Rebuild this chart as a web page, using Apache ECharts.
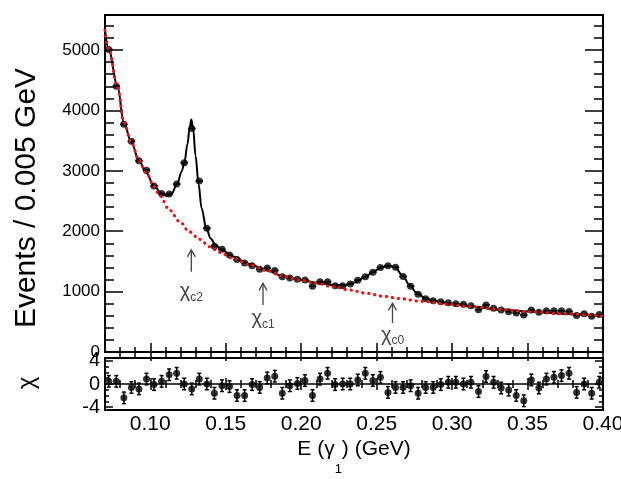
<!DOCTYPE html>
<html><head><meta charset="utf-8">
<script src="https://cdn.jsdelivr.net/npm/echarts@6/dist/echarts.min.js"></script>
<style>html,body{margin:0;padding:0;background:#fff}#c{width:621px;height:479px}</style>
</head><body><div id="c"></div>
<script>
// ---- data ----
const binCenters = [0.0725,0.0775,0.0825,0.0875,0.0925,0.0975,0.1025,0.1075,0.1125,0.1175,
  0.1225,0.1275,0.1325,0.1375,0.1425,0.1475,0.1525,0.1575,0.1625,0.1675,
  0.1725,0.1775,0.1825,0.1875,0.1925,0.1975,0.2025,0.2075,0.2125,0.2175,
  0.2225,0.2275,0.2325,0.2375,0.2425,0.2475,0.2525,0.2575,0.2625,0.2675,
  0.2725,0.2775,0.2825,0.2875,0.2925,0.2975,0.3025,0.3075,0.3125,0.3175,
  0.3225,0.3275,0.3325,0.3375,0.3425,0.3475,0.3525,0.3575,0.3625,0.3675,
  0.3725,0.3775,0.3825,0.3875,0.3925,0.3975];
const counts = [5010,4400,3770,3490,3165,3010,2750,2625,2615,2780,
  3135,3700,2830,2050,1750,1700,1605,1530,1475,1430,
  1370,1390,1350,1245,1225,1205,1192,1090,1164,1164,
  1095,1095,1125,1190,1247,1320,1400,1430,1405,1250,
  1090,955,880,850,833,816,800,790,765,700,
  778,725,695,667,645,613,695,660,682,682,
  682,670,605,635,590,620];
const residuals = [0.46,0.46,-2.4,-0.6,-0.85,0.85,-0.1,0.46,1.6,1.85,
  0,-0.85,0.85,0,-1.6,-0.3,-0.45,-2.0,-2.0,-0.1,
  -0.6,1.05,1.35,-1.6,-0.3,0.1,0.6,-2.0,0.85,1.85,
  -0.1,0,0,0.7,1.85,0.6,1.15,-1.45,-0.6,-0.6,
  -0.3,-1.6,-0.6,-0.6,-0.1,0.3,0.3,0,0.3,-1.3,
  1.3,0.3,-0.7,-1.05,-2.0,-2.9,0.7,-0.7,0.85,1.15,
  1.45,1.85,-1.45,0,-1.6,0.3];
const residualError = 1;
const halfBin = 0.0025;
const fitE = [0.0700,0.0725,0.0783,0.0825,0.0875,0.0925,0.0975,0.1025,0.1075,0.1108,
  0.1141,0.1179,0.1208,0.1227,0.1247,0.1260,0.1272,0.1284,0.1300,0.1320,
  0.1340,0.1371,0.1400,0.1433,0.1479,0.1546,0.1658,0.1770,0.1877,0.1990,
  0.2103,0.2209,0.2289,0.2355,0.2422,0.2475,0.2521,0.2574,0.2620,0.2673,
  0.2720,0.2766,0.2819,0.2872,0.2952,0.3118,0.3317,0.3516,0.3748,0.4000];
const fitVal = [5330,5000,4400,3800,3470,3170,2960,2750,2625,2585,
  2620,2790,2990,3150,3450,3700,3850,3700,3250,2780,
  2380,2050,1880,1770,1680,1580,1455,1355,1258,1198,
  1148,1110,1108,1150,1240,1320,1390,1428,1410,1262,
  1100,975,895,852,815,755,705,667,630,595];
const bgE = [0.0700,0.0725,0.0783,0.0825,0.0875,0.0925,0.0975,0.1025,0.1062,0.1128,
  0.1194,0.1260,0.1327,0.1393,0.1459,0.1546,0.1658,0.1770,0.1877,0.1990,
  0.2103,0.2209,0.2322,0.2434,0.2541,0.2654,0.2787,0.2985,0.3118,0.3317,
  0.3516,0.3748,0.4000];
const bgVal = [5330,5000,4400,3800,3470,3170,2960,2740,2590,2350,
  2160,1990,1866,1744,1650,1555,1445,1348,1255,1192,
  1137,1081,1026,972,925,885,840,790,752,705,
  667,630,595];
const xMajorTicks = [0.10,0.15,0.20,0.25,0.30,0.35,0.40];
const xMinorTicks = [0.08,0.09,0.11,0.12,0.13,0.14,0.16,0.17,0.18,0.19,0.21,0.22,0.23,0.24,
  0.26,0.27,0.28,0.29,0.31,0.32,0.33,0.34,0.36,0.37,0.38,0.39];
const yMajorTicks = [0,1000,2000,3000,4000,5000];
const yMinorTicks = [200,400,600,800,1200,1400,1600,1800,2200,2400,2600,2800,3200,3400,3600,3800,
  4200,4400,4600,4800,5200,5400];
const resMajorTicks = [-4,0,4];
const resMinorTicks = [-3,-2,-1,1,2,3];
const annotSub = ['c2','c1','c0'];
const annotE = [0.1272,0.1747,0.2605];

const FONT = '"Liberation Sans", Arial, Helvetica, sans-serif';
const chart = echarts.init(document.getElementById('c'));

function mkX(gridIndex, position, ticks, len, showLabel) {
  return {
    type: 'value', gridIndex, position, min: 0.07, max: 0.40,
    axisLine: {show: false}, splitLine: {show: false},
    axisTick: {show: true, inside: true, length: len, customValues: ticks,
      lineStyle: {color: '#000', width: 1.5}},
    axisLabel: showLabel ? {show: true, customValues: xMajorTicks,
      formatter: v => v.toFixed(2), fontSize: 21, color: '#000', margin: 4, fontFamily: FONT}
      : {show: false}
  };
}
function mkY(gridIndex, position, min, max, ticks, len, labels, fs) {
  return {
    type: 'value', gridIndex, position, min, max,
    axisLine: {show: false}, splitLine: {show: false},
    axisTick: {show: true, inside: true, length: len, customValues: ticks,
      lineStyle: {color: '#000', width: 1.5}},
    axisLabel: labels ? {show: true, customValues: labels, fontSize: fs,
      formatter: v => String(v),
      color: '#000', margin: 5, fontFamily: FONT} : {show: false}
  };
}

const xAxes = [
  mkX(0, 'bottom', xMajorTicks, 9, false),
  mkX(0, 'bottom', xMinorTicks, 5, false),
  mkX(0, 'top', xMajorTicks, 9, false),
  mkX(0, 'top', xMinorTicks, 5, false),
  mkX(1, 'bottom', xMajorTicks, 6, true),
  mkX(1, 'bottom', xMinorTicks, 4, false),
  mkX(1, 'top', xMajorTicks, 6, false),
  mkX(1, 'top', xMinorTicks, 4, false)
];
xAxes[4].name = '{t|E (γ}{s|1}{t|) (GeV)}';
xAxes[4].nameLocation = 'middle';
xAxes[4].nameGap = 29;
xAxes[4].nameTextStyle = {rich: {
  t: {fontSize: 21, fontFamily: FONT, color: '#000', verticalAlign: 'top'},
  s: {fontSize: 13, fontFamily: FONT, color: '#000', verticalAlign: 'top', padding: [24, 0, 0, 0]}
}};

const yAxes = [
  mkY(0, 'left', 0, 5580, yMajorTicks, 18, yMajorTicks, 17),
  mkY(0, 'left', 0, 5580, yMinorTicks, 9, null),
  mkY(0, 'right', 0, 5580, yMajorTicks, 18, null),
  mkY(0, 'right', 0, 5580, yMinorTicks, 9, null),
  mkY(1, 'left', -4.5, 4.5, resMajorTicks, 8, resMajorTicks, 20),
  mkY(1, 'left', -4.5, 4.5, resMinorTicks, 4, null),
  mkY(1, 'right', -4.5, 4.5, resMajorTicks, 8, null),
  mkY(1, 'right', -4.5, 4.5, resMinorTicks, 4, null)
];

const mainData = binCenters.map((e, i) => [e, counts[i]]);
const resData = binCenters.map((e, i) => [e, residuals[i]]);
const fitData = fitE.map((e, i) => [e, fitVal[i]]);
const bgData = bgE.map((e, i) => [e, bgVal[i]]);

// annotation arrows: [E, tip value, base value, label centre value]
const annotData = [
  [annotE[0], 1690, 1329, 985],
  [annotE[1], 1137, 778, 540],
  [annotE[2], 806, 480, 262]
];

const option = {
  animation: false,
  backgroundColor: '#fff',
  grid: [
    {left: 105, right: 18, top: 15, bottom: 127, show: true, borderColor: '#000', borderWidth: 2,
      backgroundColor: 'transparent', outerBoundsMode: 'none', containLabel: false},
    {left: 105, right: 18, top: 358, bottom: 69, show: true, borderColor: '#000', borderWidth: 2,
      backgroundColor: 'transparent', outerBoundsMode: 'none', containLabel: false}
  ],
  xAxis: xAxes,
  yAxis: yAxes,
  graphic: [
    {type: 'text', x: 27, y: 198, rotation: Math.PI / 2,
      style: {text: 'Events / 0.005 GeV', font: '30px ' + FONT, fill: '#000',
        align: 'center', verticalAlign: 'middle'}},
    {type: 'text', x: 27, y: 383, rotation: Math.PI / 2,
      style: {text: 'χ', font: '24px ' + FONT, fill: '#000',
        align: 'center', verticalAlign: 'middle'}}
  ],
  series: [
    {type: 'custom', xAxisIndex: 0, yAxisIndex: 0, data: mainData, z: 3,
      renderItem: (p, api) => {
        const a = api.coord([api.value(0) - halfBin, api.value(1)]);
        const b = api.coord([api.value(0) + halfBin, api.value(1)]);
        return {type: 'line', shape: {x1: a[0], y1: a[1], x2: b[0], y2: b[1]},
          style: {stroke: '#000', lineWidth: 1.5}};
      }},
    {type: 'scatter', xAxisIndex: 0, yAxisIndex: 0, data: mainData, symbol: 'circle',
      symbolSize: 7, itemStyle: {color: '#000'}, z: 3},
    {type: 'line', xAxisIndex: 0, yAxisIndex: 0, data: fitData, showSymbol: false,
      smooth: 0.35, smoothMonotone: 'x', lineStyle: {color: '#000', width: 2}, z: 4},
    {type: 'line', xAxisIndex: 0, yAxisIndex: 0, data: bgData, showSymbol: false,
      smooth: 0.35, smoothMonotone: 'x',
      lineStyle: {color: '#ee1111', width: 3, type: [0.5, 5.5], cap: 'round'}, z: 5},
    {type: 'custom', xAxisIndex: 0, yAxisIndex: 0, data: annotData, z: 6,
      renderItem: (p, api) => {
        const tip = api.coord([api.value(0), api.value(1)]);
        const base = api.coord([api.value(0), api.value(2)]);
        const lab = api.coord([api.value(0), api.value(3)]);
        const col = '#444';
        return {type: 'group', children: [
          {type: 'line', shape: {x1: base[0], y1: base[1], x2: tip[0], y2: tip[1]},
            style: {stroke: col, lineWidth: 1.3}},
          {type: 'polyline', shape: {points: [[tip[0] - 4, tip[1] + 7], [tip[0], tip[1]], [tip[0] + 4, tip[1] + 7]]},
            style: {stroke: col, lineWidth: 1.3, fill: null}},
          {type: 'text', x: lab[0], y: lab[1], style: {
            text: '{g|χ}{s|' + annotSub[p.dataIndex] + '}',
            align: 'center', verticalAlign: 'middle',
            rich: {
              g: {fontSize: 20, fontFamily: FONT, fill: col, verticalAlign: 'top'},
              s: {fontSize: 12, fontFamily: FONT, fill: col, verticalAlign: 'top', padding: [10, 0, 0, 0]}
            }}}
        ]};
      }},
    {type: 'custom', xAxisIndex: 4, yAxisIndex: 4, data: resData, z: 3,
      renderItem: (p, api) => {
        const t = api.coord([api.value(0), api.value(1) + residualError]);
        const b = api.coord([api.value(0), api.value(1) - residualError]);
        return {type: 'group', children: [
          {type: 'line', shape: {x1: t[0], y1: t[1], x2: b[0], y2: b[1]}, style: {stroke: '#000', lineWidth: 1.5}},
          {type: 'line', shape: {x1: t[0] - 2, y1: t[1], x2: t[0] + 2, y2: t[1]}, style: {stroke: '#000', lineWidth: 1.5}},
          {type: 'line', shape: {x1: b[0] - 2, y1: b[1], x2: b[0] + 2, y2: b[1]}, style: {stroke: '#000', lineWidth: 1.5}}
        ]};
      }},
    {type: 'scatter', xAxisIndex: 4, yAxisIndex: 4, data: resData, symbol: 'circle',
      symbolSize: 7, itemStyle: {color: '#000'}, z: 4,
      markLine: {silent: true, symbol: 'none', label: {show: false},
        lineStyle: {color: '#000', width: 1.5, type: 'solid'}, data: [{yAxis: 0}]}}
  ]
};
chart.setOption(option);
</script>
</body></html>
